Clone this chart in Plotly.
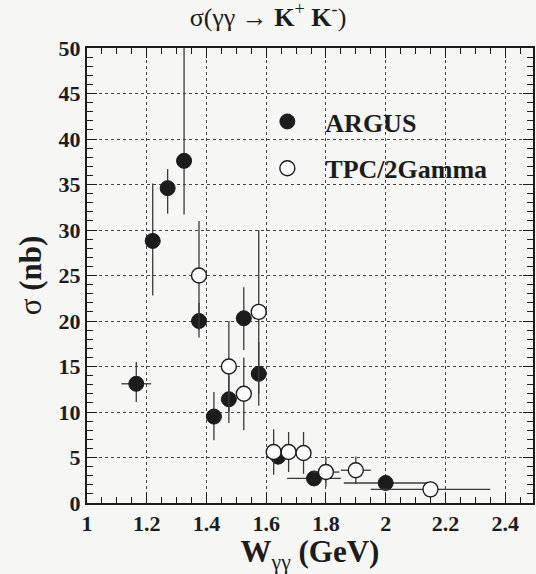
import plotly.graph_objects as go

# ARGUS measurements (filled circles)
argus_w = [1.165, 1.22, 1.27, 1.325, 1.375, 1.425, 1.475, 1.525, 1.575, 1.64, 1.76, 2.0]
argus_sigma = [13.1, 28.8, 34.6, 37.6, 20.0, 9.5, 11.4, 20.3, 14.2, 5.1, 2.7, 2.2]
argus_err_up = [2.4, 6.3, 2.1, 14.0, 2.0, 2.7, 2.6, 3.4, 3.5, 0.9, 0.7, 0.6]
argus_err_down = [2.0, 6.0, 2.8, 5.9, 1.8, 2.6, 2.6, 3.5, 3.5, 0.9, 0.7, 0.6]
argus_w_err = [0.05, 0.025, 0.025, 0.025, 0.025, 0.025, 0.025, 0.025, 0.025, 0.025, 0.09, 0.14]

# TPC/2Gamma measurements (open circles)
tpc_w = [1.375, 1.475, 1.525, 1.575, 1.625, 1.675, 1.725, 1.8, 1.9, 2.15]
tpc_sigma = [25.0, 15.0, 12.0, 21.0, 5.6, 5.6, 5.5, 3.4, 3.6, 1.5]
tpc_err = [6.0, 5.0, 4.0, 9.0, 2.5, 2.2, 2.3, 1.6, 1.5, 0.9]
tpc_w_err = [0.025, 0.025, 0.025, 0.025, 0.025, 0.025, 0.025, 0.045, 0.05, 0.2]

x_ticks = [1, 1.2, 1.4, 1.6, 1.8, 2, 2.2, 2.4]
x_tick_labels = ["1", "1.2", "1.4", "1.6", "1.8", "2", "2.2", "2.4"]
y_ticks = [0, 5, 10, 15, 20, 25, 30, 35, 40, 45, 50]

SERIF = "Liberation Serif"
INK = "#1c1c1c"
BAR = "#3a3a3a"
BG = "#f6f6f4"

fig = go.Figure()

fig.add_trace(go.Scatter(
    x=argus_w, y=argus_sigma, mode="markers", name="ARGUS",
    legendgroup="argus",
    marker=dict(symbol="circle", size=15, color=INK, line=dict(color=INK, width=1)),
    error_y=dict(type="data", symmetric=False, array=argus_err_up,
                 arrayminus=argus_err_down, color=BAR, thickness=1.3, width=0),
    error_x=dict(type="data", array=argus_w_err, color=BAR, thickness=1.3, width=0),
))

fig.add_trace(go.Scatter(
    x=tpc_w, y=tpc_sigma, mode="markers", name="TPC/2Gamma",
    legendgroup="tpc",
    marker=dict(symbol="circle", size=15, color="white", line=dict(color=INK, width=1.4)),
    error_y=dict(type="data", array=tpc_err, color=BAR, thickness=1.3, width=0),
    error_x=dict(type="data", array=tpc_w_err, color=BAR, thickness=1.3, width=0),
))

axis_common = dict(
    showline=True, linecolor=INK, linewidth=2, mirror="allticks",
    ticks="inside", ticklen=10, tickwidth=1.2, tickcolor=INK,
    showgrid=True, gridcolor="#444444", griddash="dot", gridwidth=1,
    zeroline=False,
    tickfont=dict(family=SERIF, size=22, color=INK, weight="bold"),
)

fig.update_xaxes(
    range=[1, 2.4933], tickmode="array", tickvals=x_ticks, ticktext=x_tick_labels,
    minor=dict(dtick=0.05, ticks="inside", ticklen=6, tickcolor=INK, showgrid=False),
    title=dict(text="<b>W</b><sub>γγ</sub> <b>(GeV)</b>",
               font=dict(family=SERIF, size=31, color=INK), standoff=4),
    **axis_common,
)
fig.update_yaxes(
    range=[0, 50], tickmode="array", tickvals=y_ticks,
    minor=dict(dtick=1, ticks="inside", ticklen=6, tickcolor=INK, showgrid=False),
    title=dict(text="σ <b>(nb)</b>", font=dict(family=SERIF, size=31, color=INK), standoff=8),
    **axis_common,
)

fig.update_layout(
    width=536, height=574,
    margin=dict(l=87, r=1, t=48, b=71),
    paper_bgcolor=BG, plot_bgcolor=BG,
    title=dict(text="σ(γγ → <b>K</b><sup>+</sup> <b>K</b><sup>-</sup>)",
               x=0.5, xanchor="center", y=0.97, yanchor="middle",
               font=dict(family=SERIF, size=26, color=INK)),
    legend=dict(x=0.364, y=0.89, xanchor="left", yanchor="top",
                bgcolor="rgba(0,0,0,0)", tracegroupgap=10, itemwidth=66,
                font=dict(family=SERIF, size=26, color=INK, weight="bold")),
    showlegend=True,
)

fig.write_html("out.html")
